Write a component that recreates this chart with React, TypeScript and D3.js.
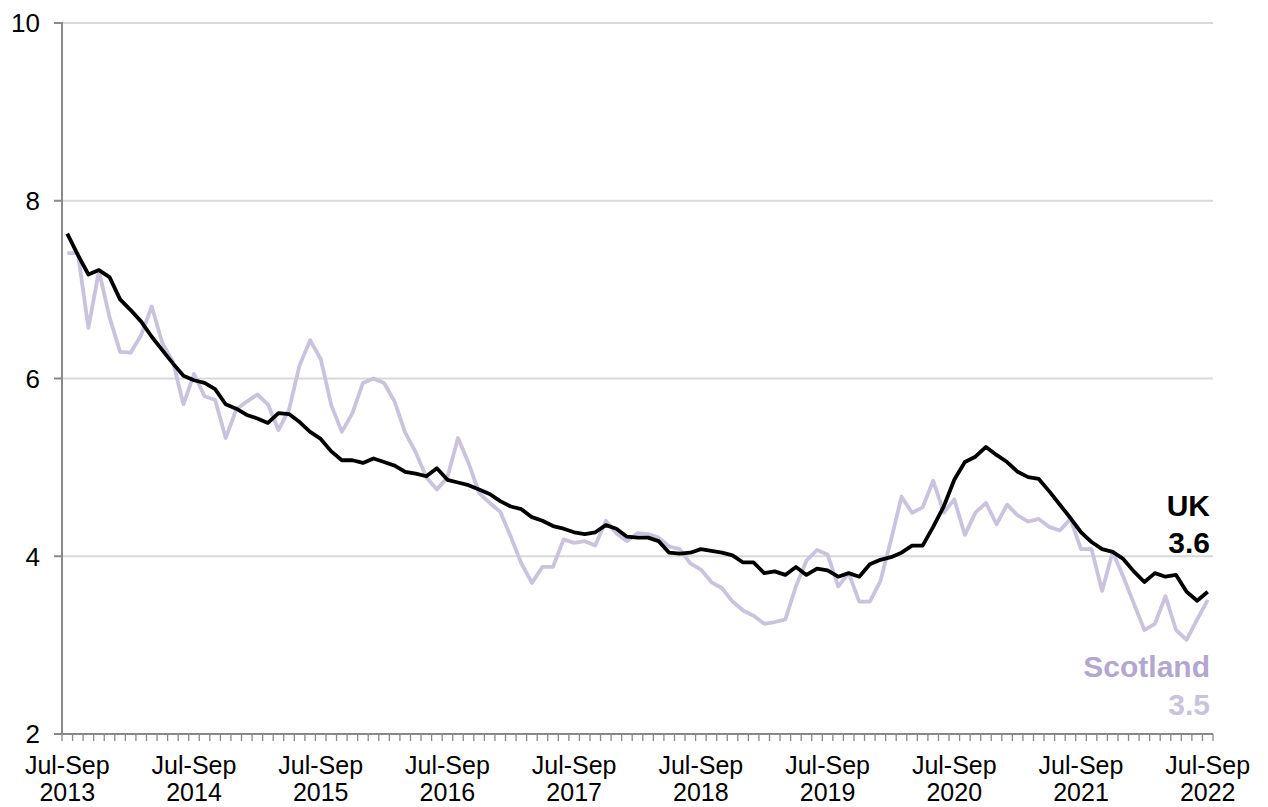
import React from "react";
import * as d3 from "d3";

const MONTHS = ["Jan","Feb","Mar","Apr","May","Jun","Jul","Aug","Sep","Oct","Nov","Dec"];
// rolling quarters from Jul-Sep 2013 to Jul-Sep 2022
const categories: string[] = [];
for (let k = 0; k < 109; k++) {
  const m0 = (6 + k) % 12;
  const y0 = 2013 + Math.floor((6 + k) / 12);
  const m2 = (m0 + 2) % 12;
  const y2 = y0 + (m0 + 2 >= 12 ? 1 : 0);
  categories.push(`${MONTHS[m0]}-${MONTHS[m2]} ${y2}`);
}

const ukValues = [
  7.63, 7.39, 7.17, 7.22, 7.14, 6.89, 6.77, 6.64, 6.47, 6.32,
  6.17, 6.03, 5.98, 5.95, 5.88, 5.71, 5.66, 5.59, 5.55, 5.50,
  5.61, 5.60, 5.51, 5.40, 5.32, 5.18, 5.08, 5.08, 5.05, 5.10,
  5.06, 5.02, 4.95, 4.93, 4.90, 4.99, 4.86, 4.83, 4.80, 4.75,
  4.70, 4.62, 4.56, 4.53, 4.44, 4.40, 4.34, 4.31, 4.27, 4.25,
  4.27, 4.35, 4.31, 4.22, 4.21, 4.21, 4.17, 4.04, 4.03, 4.04,
  4.08, 4.06, 4.04, 4.01, 3.93, 3.93, 3.81, 3.83, 3.79, 3.88,
  3.79, 3.86, 3.84, 3.77, 3.81, 3.77, 3.91, 3.96, 3.99, 4.04,
  4.12, 4.12, 4.33, 4.56, 4.86, 5.06, 5.12, 5.23, 5.14, 5.06,
  4.95, 4.89, 4.87, 4.73, 4.58, 4.43, 4.27, 4.16, 4.08, 4.05,
  3.97, 3.83, 3.71, 3.81, 3.77, 3.79, 3.60, 3.50, 3.60,
];

const scotlandValues = [
  7.41, 7.41, 6.57, 7.21, 6.69, 6.30, 6.29, 6.49, 6.81, 6.40,
  6.19, 5.71, 6.05, 5.80, 5.76, 5.33, 5.65, 5.74, 5.82, 5.71,
  5.42, 5.65, 6.15, 6.43, 6.22, 5.70, 5.40, 5.61, 5.95, 6.00,
  5.95, 5.74, 5.39, 5.17, 4.89, 4.75, 4.89, 5.33, 5.05, 4.71,
  4.60, 4.50, 4.22, 3.92, 3.70, 3.88, 3.88, 4.19, 4.15, 4.17,
  4.12, 4.40, 4.26, 4.17, 4.26, 4.25, 4.21, 4.11, 4.08, 3.92,
  3.85, 3.71, 3.64, 3.49, 3.39, 3.33, 3.24, 3.26, 3.29, 3.66,
  3.95, 4.07, 4.02, 3.66, 3.81, 3.49, 3.49, 3.72, 4.18, 4.67,
  4.49, 4.55, 4.85, 4.49, 4.64, 4.24, 4.49, 4.60, 4.36, 4.58,
  4.46, 4.39, 4.42, 4.33, 4.29, 4.42, 4.08, 4.08, 3.61, 4.05,
  3.77, 3.47, 3.17, 3.24, 3.55, 3.17, 3.06, 3.29, 3.51,
];

const yTicks = [2, 4, 6, 8, 10];
const seriesLabels = [
  { name: "UK", value: "3.6" },
  { name: "Scotland", value: "3.5" },
];

const W = 1268;
const H = 807;
const M = { left: 62, right: 1213, top: 23, bottom: 734 };
const FONT = "'Liberation Sans', Arial, Helvetica, sans-serif";
const AXIS = "#898989";
const GRID = "#d9d9d9";
const SCOT = "#cbc2de";
const SCOT_TEXT = "#b3a6cf";

export default function App() {
  const x = d3.scaleBand<string>().domain(categories).range([M.left, M.right]).padding(0);
  const bw = x.bandwidth();
  const cx = (i: number) => (x(categories[i]) as number) + bw / 2;
  const y = d3.scaleLinear().domain([2, 10]).range([M.bottom, M.top]);

  const line = d3
    .line<number>()
    .x((_, i) => cx(i))
    .y((d) => y(d))
    .curve(d3.curveLinear);

  const boundaries = d3.range(categories.length + 1).map((k) => M.left + k * bw);
  const labelIdx = categories.map((c, i) => (c.startsWith("Jul-Sep") ? i : -1)).filter((i) => i >= 0);

  return (
    <div style={{ position: "fixed", left: 0, top: 0, width: W, height: H, background: "#fff" }}>
      <svg width={W} height={H} style={{ display: "block" }} fontFamily={FONT}>
        {yTicks.map((t) => (
          <g key={t}>
            {t !== 2 && (
              <line x1={M.left} x2={M.right} y1={y(t)} y2={y(t)} stroke={GRID} strokeWidth={2} />
            )}
            <line x1={M.left - 8} x2={M.left} y1={y(t)} y2={y(t)} stroke={AXIS} strokeWidth={2} />
            <text x={40} y={y(t)} dy="0.36em" textAnchor="end" fontSize={26} fill="#000">
              {t}
            </text>
          </g>
        ))}
        <line x1={M.left} x2={M.left} y1={M.top - 1} y2={M.bottom} stroke={AXIS} strokeWidth={2} />
        <line x1={M.left} x2={M.right} y1={M.bottom} y2={M.bottom} stroke={AXIS} strokeWidth={2} />
        {boundaries.map((bx, k) => (
          <line key={k} x1={bx} x2={bx} y1={M.bottom} y2={M.bottom + 7} stroke={AXIS} strokeWidth={1.3} />
        ))}
        {labelIdx.map((i) => {
          const [a, b] = categories[i].split(" ");
          return (
            <g key={i}>
              <text x={cx(i)} y={774} textAnchor="middle" fontSize={25} fill="#000">{a}</text>
              <text x={cx(i)} y={801} textAnchor="middle" fontSize={25} fill="#000">{b}</text>
            </g>
          );
        })}
        <path d={line(scotlandValues) || ""} fill="none" stroke={SCOT} strokeWidth={3.8} strokeLinejoin="round" />
        <path d={line(ukValues) || ""} fill="none" stroke="#000" strokeWidth={3.8} strokeLinejoin="round" />
        <text x={1210} y={516} textAnchor="end" fontSize={30} fontWeight="bold" fill="#000">
          {seriesLabels[0].name}
        </text>
        <text x={1210} y={553} textAnchor="end" fontSize={30} fontWeight="bold" fill="#000">
          {seriesLabels[0].value}
        </text>
        <text x={1210} y={677} textAnchor="end" fontSize={30} fontWeight="bold" fill={SCOT_TEXT}>
          {seriesLabels[1].name}
        </text>
        <text x={1210} y={715} textAnchor="end" fontSize={30} fontWeight="bold" fill={SCOT}>
          {seriesLabels[1].value}
        </text>
      </svg>
    </div>
  );
}
